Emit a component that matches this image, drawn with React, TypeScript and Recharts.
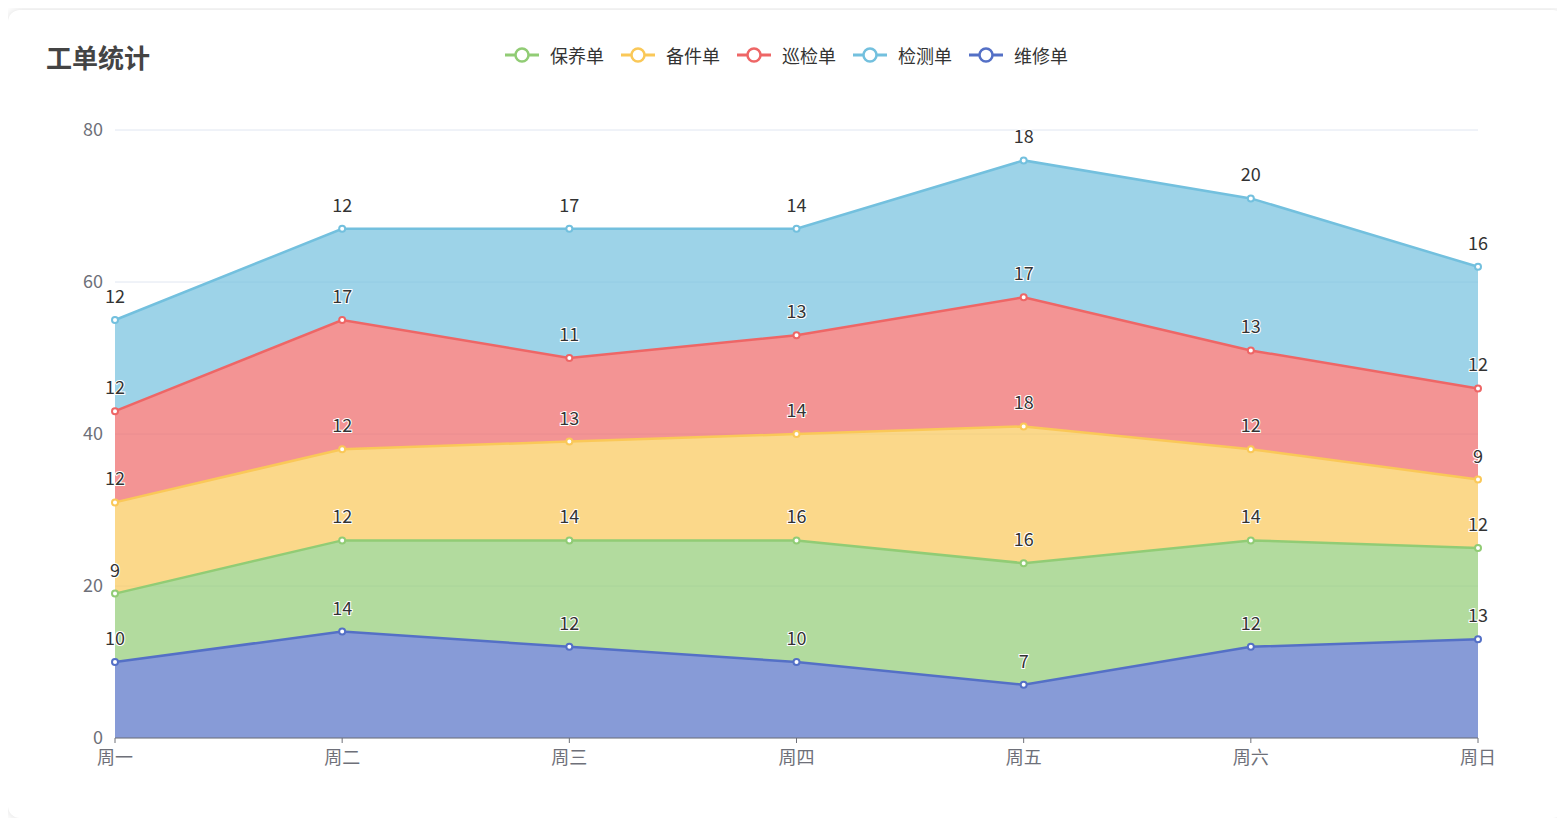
import { AreaChart, Area, XAxis, YAxis, CartesianGrid, LabelList } from 'recharts';

const days = ['周一', '周二', '周三', '周四', '周五', '周六', '周日'];

// stacked bottom -> top
const repair = [10, 14, 12, 10, 7, 12, 13];
const maintain = [9, 12, 14, 16, 16, 14, 12];
const spare = [12, 12, 13, 14, 18, 12, 9];
const patrol = [12, 17, 11, 13, 17, 13, 12];
const inspect = [12, 12, 17, 14, 18, 20, 16];

const yTicks = [0, 20, 40, 60, 80];

const series = [
  { key: '维修单', values: repair, color: '#5470c6' },
  { key: '保养单', values: maintain, color: '#91cc75' },
  { key: '备件单', values: spare, color: '#fac858' },
  { key: '巡检单', values: patrol, color: '#ee6666' },
  { key: '检测单', values: inspect, color: '#73c0de' },
];

const legendOrder = ['保养单', '备件单', '巡检单', '检测单', '维修单'];

const data = days.map((day, i) => {
  const row: Record<string, string | number> = { day };
  series.forEach((s) => {
    row[s.key] = s.values[i];
  });
  return row;
});

const FONT = '"Noto Sans CJK SC", "Noto Sans", sans-serif';

const LegendIcon = ({ color }: { color: string }) => (
  <svg width={34} height={18} style={{ display: 'block' }}>
    <line x1={0} y1={9} x2={34} y2={9} stroke={color} strokeWidth={3} />
    <circle cx={17} cy={9} r={6.5} fill="#fff" stroke={color} strokeWidth={2.5} />
  </svg>
);

export default function App() {
  return (
    <div style={{ paddingTop: 2, fontFamily: FONT }}>
      <div
        style={{
          position: 'relative',
          width: 1557,
          height: 808,
          background: '#fff',
          borderRadius: 12,
          boxShadow: '0 0 10px rgba(0,0,0,0.14)',
        }}
      >
        <div
          style={{
            position: 'absolute',
            left: 38,
            top: 28,
            fontSize: 26,
            fontWeight: 700,
            color: '#444',
          }}
        >
          工单统计
        </div>

        {/* legend */}
        <div
          style={{
            position: 'absolute',
            top: 32,
            left: 0,
            right: 0,
            display: 'flex',
            justifyContent: 'center',
            zIndex: 2,
          }}
        >
          {legendOrder.map((name, i) => {
            const s = series.find((x) => x.key === name)!;
            return (
              <div
                key={name}
                style={{
                  display: 'flex',
                  alignItems: 'center',
                  marginRight: i < legendOrder.length - 1 ? 17 : 0,
                }}
              >
                <LegendIcon color={s.color} />
                <span style={{ marginLeft: 11, fontSize: 18, color: '#333', lineHeight: '26px' }}>{name}</span>
              </div>
            );
          })}
        </div>

        <AreaChart
          width={1557}
          height={808}
          data={data}
          margin={{ top: 120, right: 87, bottom: 50, left: 0 }}
          style={{ fontFamily: FONT }}
        >
          <CartesianGrid vertical={false} stroke="#e0e6f1" />
          <XAxis
            dataKey="day"
            height={30}
            stroke="#6e7079"
            tick={{ fill: '#6e7079', fontSize: 18 }}
            tickSize={5}
            tickMargin={8}
            axisLine={{ stroke: '#6e7079' }}
            tickLine={{ stroke: '#6e7079' }}
          />
          <YAxis
            width={107}
            domain={[0, 80]}
            ticks={yTicks}
            axisLine={false}
            tickLine={false}
            tickSize={6}
            tickMargin={6}
            tick={{ fill: '#6e7079', fontSize: 18 }}
          />
          {/* filled bands */}
          {series.map((s) => (
            <Area
              key={`fill-${s.key}`}
              type="linear"
              dataKey={s.key}
              stackId="fill"
              stroke="none"
              fill={s.color}
              fillOpacity={0.7}
              dot={false}
              activeDot={false}
              legendType="none"
              isAnimationActive={false}
            />
          ))}
          {/* lines, dots, labels on top */}
          {series.map((s) => (
            <Area
              key={`line-${s.key}`}
              type="linear"
              dataKey={s.key}
              stackId="line"
              stroke={s.color}
              strokeWidth={2.5}
              fill="none"
              dot={{ r: 3, fill: '#fff', stroke: s.color, strokeWidth: 2, fillOpacity: 1 }}
              activeDot={false}
              isAnimationActive={false}
            >
              <LabelList
                dataKey={s.key}
                position="top"
                offset={17}
                fill="#333"
                fontSize={18}
                stroke="#fff"
                strokeWidth={2}
                style={{ paintOrder: 'stroke' }}
              />
            </Area>
          ))}
        </AreaChart>
      </div>
    </div>
  );
}
